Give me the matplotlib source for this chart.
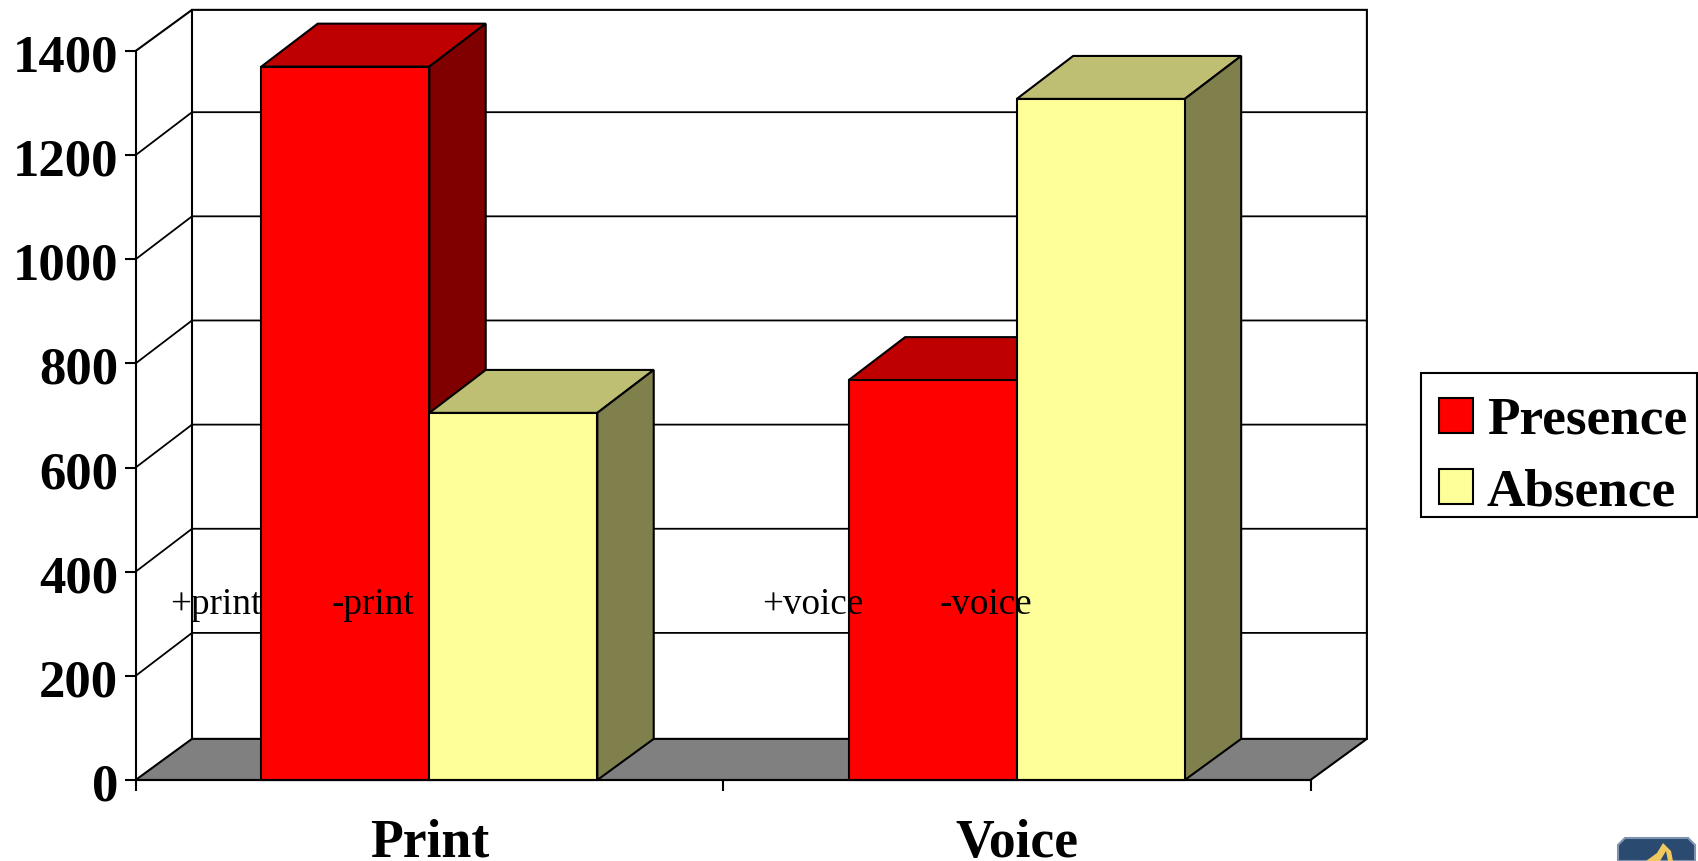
import matplotlib
matplotlib.use("Agg")
import matplotlib.pyplot as plt
from matplotlib.patches import Patch, Polygon, Rectangle
from matplotlib.transforms import ScaledTranslation

plt.rcParams['font.family'] = ['Liberation Serif', 'DejaVu Serif']

categories = ["Print", "Voice"]
presence = [1370, 768]
absence = [705, 1308]
series_names = ["Presence", "Absence"]
y_ticks = [0, 200, 400, 600, 800, 1000, 1200, 1400]
notes = ["+print", "-print", "+voice", "-voice"]
note_x = [0.059, 0.334, 1.067, 1.368]
note_y = 319

# front, top and side colours for each series
red = ["#FF0000", "#BF0000", "#800000"]
yellow = ["#FFFF99", "#BFBF73", "#80804D"]

bar_w = 0.286
dx = 0.096     # depth of the box, in category units
dy = 82.5      # depth of gridlines and bar tops, in value units
edge_dy = 79   # the floor and the top of the wall sit a little closer

W, H = 1698, 861
fig = plt.figure(figsize=(W / 100, H / 100), dpi=100)
ax = fig.add_axes([135.6 / W, 1 - 780 / H, (1310.5 - 135.6) / W, (780 - 51) / H])
ax.set_xlim(0, 2)
ax.set_ylim(0, 1400)
ax.patch.set_visible(False)

lw_line = 1.5
lw_grid = 1.3

# floor
ax.add_patch(Polygon([(0, 0), (2, 0), (2 + dx, edge_dy), (dx, edge_dy)], closed=True,
                     fc="#808080", ec="black", lw=lw_line, clip_on=False, zorder=1))

# back wall with gridlines
for v in y_ticks[1:-1]:
    ax.plot([0, dx, 2 + dx], [v, v + dy, v + dy], color="black", lw=lw_grid,
            clip_on=False, zorder=1, solid_joinstyle="miter")
ax.plot([0, dx, 2 + dx, 2 + dx], [1400, 1400 + edge_dy, 1400 + edge_dy, edge_dy], color="black",
        lw=lw_line, clip_on=False, zorder=1, solid_joinstyle="miter")
ax.plot([dx, dx], [edge_dy, 1400 + edge_dy], color="black", lw=lw_line, clip_on=False, zorder=1)


def box(left, value, colors, z):
    right = left + bar_w
    ax.bar(left, value, bar_w, align="edge", color=colors[0], edgecolor="black",
           linewidth=lw_line, zorder=z + 0.2, clip_on=False)
    ax.add_patch(Polygon([(left, value), (right, value), (right + dx, value + dy), (left + dx, value + dy)],
                         closed=True, fc=colors[1], ec="black", lw=lw_line, clip_on=False, zorder=z))
    ax.add_patch(Polygon([(right, 0), (right + dx, edge_dy), (right + dx, value + dy), (right, value)],
                         closed=True, fc=colors[2], ec="black", lw=lw_line, clip_on=False, zorder=z))


for i in range(len(categories)):
    center = i + 0.5
    box(center - bar_w, presence[i], red, 2 + i * 2)
    box(center, absence[i], yellow, 3 + i * 2)

for t, x in zip(notes, note_x):
    ax.text(x, note_y, t, fontsize=26.7, color="black", ha="left", va="baseline", zorder=10)

# axes and tick labels
for s in ["top", "right"]:
    ax.spines[s].set_visible(False)
for s in ["left", "bottom"]:
    ax.spines[s].set_linewidth(lw_line)
    ax.spines[s].set_zorder(9)
ax.set_yticks(y_ticks)
ax.set_yticklabels([str(v) for v in y_ticks], fontsize=38, fontweight="bold")
ax.tick_params(axis="y", length=8, width=lw_line, pad=4.5)
# the numbers sit slightly below their ticks
shift = ScaledTranslation(0, -2 / 100, fig.dpi_scale_trans)
for label in ax.get_yticklabels():
    label.set_transform(label.get_transform() + shift)
ax.set_xticks([0, 1, 2])
ax.set_xticklabels([])
ax.tick_params(axis="x", which="major", length=8, width=lw_line)
ax.set_xticks([0.5, 1.5], minor=True)
ax.set_xticklabels(categories, minor=True, fontsize=38.6, fontweight="bold")
ax.tick_params(axis="x", which="minor", length=0, pad=28)

# legend, with its frame drawn separately behind the axes
fig.add_artist(Rectangle((1421 / W, 1 - 516.7 / H), (1697 - 1421) / W, (516.7 - 372.7) / H, fc="white",
                         ec="black", lw=lw_line, transform=fig.transFigure, zorder=-1))
handles = [Patch(fc=red[0], ec="black", lw=lw_line), Patch(fc=yellow[0], ec="black", lw=lw_line)]
ax.legend(handles, series_names, loc="upper left", bbox_to_anchor=(1439 / W, 1 - 397 / H),
          bbox_transform=fig.transFigure, prop={"weight": "bold", "size": 38.3},
          frameon=False, handlelength=0.64, handleheight=0.64, handletextpad=0.26,
          labelspacing=0.44, borderpad=0, borderaxespad=0)

# small badge in the lower corner
badge = [(1618, 861), (1618, 845), (1625, 838), (1688, 838), (1695, 845), (1695, 861)]
fig.add_artist(Polygon([(x / W, 1 - y / H) for x, y in badge], closed=True, fc="#2A4A70",
                       ec="#7F93AE", lw=1.5, transform=fig.transFigure))
swoosh = [(1646, 861), (1657, 853), (1663, 843), (1671, 851), (1673, 861), (1668, 861), (1666, 851), (1660, 861)]
fig.add_artist(Polygon([(x / W, 1 - y / H) for x, y in swoosh], closed=True, fc="#F0C860",
                       ec="none", transform=fig.transFigure))

fig.savefig("out.png", dpi=100)
